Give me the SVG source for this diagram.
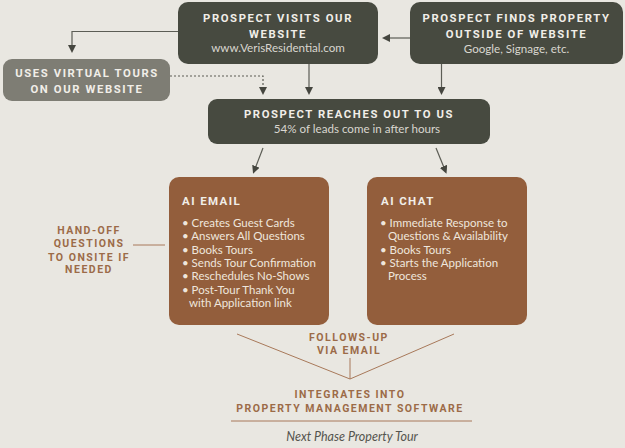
<svg xmlns="http://www.w3.org/2000/svg" width="625" height="448" viewBox="0 0 625 448">
  <defs>
    <marker id="arrow" markerWidth="8" markerHeight="8" refX="4" refY="4" orient="auto" markerUnits="userSpaceOnUse">
      <path d="M0,0 L8,4 L0,8 Z" fill="#45463f"/>
    </marker>
  </defs>
  <style>
    .dark { fill: #474a40; }
    .grey { fill: #7e7d74; }
    .brown { fill: #935e3c; }
    .title { font-family: Roboto, "Liberation Sans", sans-serif; font-weight: 700; font-size: 11.3px; letter-spacing: 1.6px; fill: #f1eee8; text-anchor: middle; }
    .sub { font-family: Lato, "Open Sans", sans-serif; font-size: 11.6px; fill: #d9d6cf; text-anchor: middle; }
    .head { font-family: Roboto, "Liberation Sans", sans-serif; font-weight: 700; font-size: 11.5px; letter-spacing: 1.4px; fill: #f1eee8; }
    .item { font-family: Lato, "Open Sans", sans-serif; font-size: 11.5px; fill: #efe6dc; }
    .label { font-family: Roboto, "Liberation Sans", sans-serif; font-weight: 700; font-size: 10.5px; letter-spacing: 1.5px; fill: #9c6b48; text-anchor: middle; }
    .conn { stroke: #5c5d55; stroke-width: 1.2; fill: none; }
    .rule { stroke: #a8795a; stroke-width: 1; fill: none; }
  </style>
  <rect width="625" height="448" fill="#e9e7e1"/>

  <g id="connectors">
    <line class="conn" x1="410" y1="38" x2="386" y2="38" marker-end="url(#arrow)"/>
    <polyline class="conn" points="178,31.5 72,31.5 72,49" marker-end="url(#arrow)"/>
    <polyline class="conn" points="170,76 263,76 263,91" stroke-dasharray="2,2" marker-end="url(#arrow)"/>
    <line class="conn" x1="309" y1="64" x2="309" y2="91" marker-end="url(#arrow)"/>
    <line class="conn" x1="441.5" y1="64" x2="441.5" y2="91" marker-end="url(#arrow)"/>
    <line class="conn" x1="263" y1="148" x2="254.5" y2="170" marker-end="url(#arrow)"/>
    <line class="conn" x1="436" y1="148" x2="445" y2="170" marker-end="url(#arrow)"/>
    <line class="rule" x1="133" y1="245" x2="165" y2="245"/>
    <polyline class="rule" points="237,334 350,379 454,334"/>
    <line class="rule" x1="350" y1="358" x2="350" y2="379"/>
    <line class="rule" x1="231" y1="421" x2="472" y2="421"/>
  </g>

  <g id="visits-website">
    <rect class="dark" x="178" y="2" width="200" height="62" rx="10"/>
    <text class="title" x="278" y="22">PROSPECT VISITS OUR</text>
    <text class="title" x="278" y="38">WEBSITE</text>
    <text class="sub" x="278" y="52">www.VerisResidential.com</text>
  </g>

  <g id="finds-property">
    <rect class="dark" x="410" y="2" width="213" height="62" rx="10"/>
    <text class="title" x="516.5" y="22">PROSPECT FINDS PROPERTY</text>
    <text class="title" x="516.5" y="38">OUTSIDE OF WEBSITE</text>
    <text class="sub" x="516.5" y="53">Google, Signage, etc.</text>
  </g>

  <g id="virtual-tours">
    <rect class="grey" x="3" y="59" width="167" height="42" rx="9"/>
    <text class="title" x="87" y="77">USES VIRTUAL TOURS</text>
    <text class="title" x="87" y="93">ON OUR WEBSITE</text>
  </g>

  <g id="reaches-out">
    <rect class="dark" x="208" y="99" width="282" height="45" rx="9"/>
    <text class="title" x="349" y="118">PROSPECT REACHES OUT TO US</text>
    <text class="sub" x="357" y="133">54% of leads come in after hours</text>
  </g>

  <g id="ai-email">
    <rect class="brown" x="169" y="177" width="160" height="148" rx="10"/>
    <text class="head" x="182" y="205">AI EMAIL</text>
    <g class="item">
      <text x="182" y="227">• Creates Guest Cards</text>
      <text x="182" y="240.3">• Answers All Questions</text>
      <text x="182" y="253.6">• Books Tours</text>
      <text x="182" y="266.9">• Sends Tour Confirmation</text>
      <text x="182" y="280.2">• Reschedules No-Shows</text>
      <text x="182" y="293.5">• Post-Tour Thank You</text>
      <text x="189" y="306.8">with Application link</text>
    </g>
  </g>

  <g id="ai-chat">
    <rect class="brown" x="367" y="177" width="160" height="148" rx="10"/>
    <text class="head" x="381" y="205">AI CHAT</text>
    <g class="item">
      <text x="380" y="227">• Immediate Response to</text>
      <text x="388" y="240.3">Questions &amp; Availability</text>
      <text x="380" y="253.6">• Books Tours</text>
      <text x="380" y="266.9">• Starts the Application</text>
      <text x="388" y="280.2">Process</text>
    </g>
  </g>

  <g id="hand-off">
    <text class="label" x="89" y="234">HAND-OFF</text>
    <text class="label" x="89" y="247">QUESTIONS</text>
    <text class="label" x="89" y="260.5">TO ONSITE IF</text>
    <text class="label" x="89" y="273">NEEDED</text>
  </g>

  <g id="follows-up">
    <text class="label" x="349" y="341">FOLLOWS-UP</text>
    <text class="label" x="349" y="354">VIA EMAIL</text>
  </g>

  <g id="integrates">
    <text class="label" x="350" y="398">INTEGRATES INTO</text>
    <text class="label" x="350" y="412">PROPERTY MANAGEMENT SOFTWARE</text>
  </g>

  <g id="next-phase">
    <text x="352" y="441" font-family="Lato, 'Open Sans', sans-serif" font-size="12.5px" font-style="italic" fill="#55554f" text-anchor="middle">Next Phase Property Tour</text>
  </g>
</svg>
